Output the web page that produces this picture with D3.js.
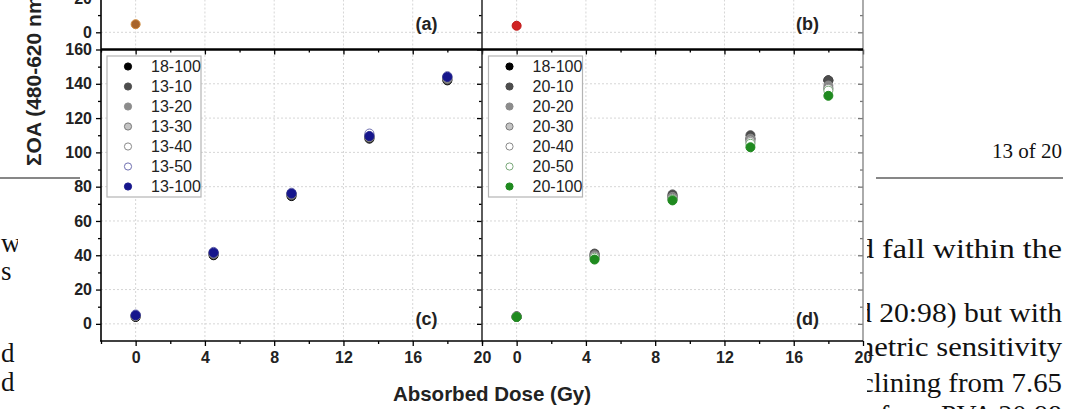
<!DOCTYPE html>
<html><head><meta charset="utf-8">
<script src="https://cdn.jsdelivr.net/npm/d3@7"></script>
<style>body{margin:0;background:#fff;overflow:hidden}</style>
</head><body>
<svg id="c" width="1078" height="409"></svg>
<script>
// ---------- data ----------
const doses = [0, 4.5, 9, 13.5, 18];
const seriesC = ["18-100","13-10","13-20","13-30","13-40","13-50","13-100"];
const valuesC = [
  [4.0, 40.0, 74.5, 108.0, 142.0],
  [4.5, 40.5, 75.0, 108.5, 142.5],
  [4.5, 41.0, 75.5, 109.0, 143.0],
  [5.0, 41.0, 76.0, 109.5, 143.5],
  [5.0, 41.5, 76.0, 110.0, 144.0],
  [5.5, 42.0, 76.5, 111.0, 144.5],
  [5.0, 41.5, 76.0, 109.5, 144.0]
];
const seriesD = ["18-100","20-10","20-20","20-30","20-40","20-50","20-100"];
const valuesD = [
  [4.0, 40.0, 74.5, 108.0, 142.0],
  [4.5, 41.0, 75.5, 110.0, 142.0],
  [4.0, 40.0, 74.0, 108.0, 139.0],
  [4.0, 39.5, 73.5, 107.0, 137.5],
  [4.0, 39.0, 73.0, 106.0, 137.0],
  [4.0, 38.5, 72.5, 105.0, 136.0],
  [4.0, 37.5, 72.0, 103.0, 133.0]
];
const dosesTop = [0];
const valuesA = [4.7];
const valuesB = [3.8];
const xTicks = [0, 4, 8, 12, 16, 20];
const xMinor = [-2, 2, 6, 10, 14, 18];
const yTicks = [0, 20, 40, 60, 80, 100, 120, 140, 160];
const yMinor = [10, 30, 50, 70, 90, 110, 130, 150];
const yTopTicks = [0, 20];
const yTopMinor = [10];
const panelLabels = ["(a)", "(b)", "(c)", "(d)"];
const yTitle = "\u03A3OA (480-620 nm)";
const xTitle = "Absorbed Dose (Gy)";
const pageHeader = "13 of 20";
const pageRight = ["d fall within the", "d 20:98) but with", "netric sensitivity", "clining from 7.65", "from PVA 20:98"];
const pageLeft = ["w", "s", "d", "d"];

// ---------- styles ----------
const styleC = [
  {fill:"#000000", stroke:"#000000"},
  {fill:"#4d4d4d", stroke:"#4d4d4d"},
  {fill:"#8c8c8c", stroke:"#8c8c8c"},
  {fill:"#c4c4c4", stroke:"#7a7a7a"},
  {fill:"#ffffff", stroke:"#8a8a8a"},
  {fill:"#ffffff", stroke:"#7070b0"},
  {fill:"#16168c", stroke:"#16168c"}
];
const styleD = [
  {fill:"#000000", stroke:"#000000"},
  {fill:"#4d4d4d", stroke:"#4d4d4d"},
  {fill:"#8c8c8c", stroke:"#8c8c8c"},
  {fill:"#c4c4c4", stroke:"#7a7a7a"},
  {fill:"#ffffff", stroke:"#8a8a8a"},
  {fill:"#ffffff", stroke:"#7aa87a"},
  {fill:"#1f8a1f", stroke:"#1f8a1f"}
];

const svg = d3.select("#c");
const SANS = "'Liberation Sans', Arial, sans-serif";
const SERIF = "'Liberation Serif', 'DejaVu Serif', serif";

// ---------- page text around the figure ----------
const defs = svg.append("defs");
defs.append("clipPath").attr("id","clipR").append("rect").attr("x",867).attr("y",0).attr("width",211).attr("height",409);
defs.append("clipPath").attr("id","clipL").append("rect").attr("x",0).attr("y",0).attr("width",18).attr("height",409);

const rightLayout = [
  {x:858, w:204, y:258},
  {x:857, w:205, y:322},
  {x:859, w:203, y:356},
  {x:861, w:201, y:392},
  {x:880, w:182, y:424}
];
svg.append("g").attr("clip-path","url(#clipR)").selectAll("text").data(pageRight).join("text")
  .attr("x",(d,i)=>rightLayout[i].x).attr("y",(d,i)=>rightLayout[i].y)
  .attr("textLength",(d,i)=>rightLayout[i].w).attr("lengthAdjust","spacingAndGlyphs")
  .attr("font-family",SERIF).attr("font-size",27).attr("fill","#111").text(d=>d);
const leftY = [252, 280, 362, 391];
svg.append("g").attr("clip-path","url(#clipL)").selectAll("text").data(pageLeft).join("text")
  .attr("x",1).attr("y",(d,i)=>leftY[i])
  .attr("font-family",SERIF).attr("font-size",27).attr("fill","#111").text(d=>d);
svg.append("text").attr("x",1062).attr("y",158).attr("text-anchor","end")
  .attr("font-family",SERIF).attr("font-size",21).attr("fill","#111").text(pageHeader);
svg.append("line").attr("x1",876).attr("x2",1063).attr("y1",178).attr("y2",178).attr("stroke","#111").attr("stroke-width",1.2);
svg.append("line").attr("x1",0).attr("x2",80).attr("y1",178).attr("y2",178).attr("stroke","#111").attr("stroke-width",1.2);

// ---------- figure ----------
const fig = svg.append("g");
const xC = d3.scaleLinear().domain([-2,20]).range([101,482]);
const xD = d3.scaleLinear().domain([-2,20]).range([482,863]);
const yB = d3.scaleLinear().domain([-10,160]).range([341,49.5]);
const yT = d3.scaleLinear().domain([-10,20]).range([49.5,-2.1]);

// grid
function grid(xs, ys, yTicksG) {
  const g = fig.append("g").attr("stroke","#d6d6d6").attr("stroke-width",1).attr("stroke-dasharray","2,2");
  g.selectAll("line.v").data(xTicks.filter(v=>v<20)).join("line").attr("class","v")
    .attr("x1",d=>xs(d)).attr("x2",d=>xs(d)).attr("y1",ys.range()[0]).attr("y2",ys.range()[1]);
  g.selectAll("line.h").data(yTicksG).join("line").attr("class","h")
    .attr("x1",xs.range()[0]).attr("x2",xs.range()[1]).attr("y1",d=>ys(d)).attr("y2",d=>ys(d));
}
grid(xC, yB, yTicks.filter(v=>v<160));
grid(xD, yB, yTicks.filter(v=>v<160));
grid(xC, yT, [0]);
grid(xD, yT, [0]);

function styleAxis(g, color) {
  g.select(".domain").remove();
  g.selectAll("line").attr("stroke", color || "#000").attr("stroke-width",1.3);
  g.selectAll("text").attr("font-family",SANS).attr("font-size",16).attr("font-weight","bold").attr("fill","#222");
}
function addAxis(axis, tx, ty, color) {
  const g = fig.append("g").attr("transform",`translate(${tx},${ty})`).call(axis);
  styleAxis(g, color);
  return g;
}
// left axes with labels (c and a)
addAxis(d3.axisLeft(yB).tickValues(yTicks).tickSize(5).tickSizeOuter(0).tickPadding(4).tickFormat(d3.format("d")), 101, 0);
addAxis(d3.axisLeft(yB).tickValues(yMinor).tickSize(3).tickSizeOuter(0).tickFormat(""), 101, 0);
addAxis(d3.axisLeft(yT).tickValues(yTopTicks).tickSize(5).tickSizeOuter(0).tickPadding(4).tickFormat(d3.format("d")), 101, 0);
addAxis(d3.axisLeft(yT).tickValues(yTopMinor).tickSize(3).tickSizeOuter(0).tickFormat(""), 101, 0);
// left axes of d and b (no labels)
addAxis(d3.axisLeft(yB).tickValues(yTicks).tickSize(5).tickSizeOuter(0).tickFormat(""), 482, 0);
addAxis(d3.axisLeft(yB).tickValues(yMinor).tickSize(3).tickSizeOuter(0).tickFormat(""), 482, 0);
addAxis(d3.axisLeft(yT).tickValues(yTopTicks).tickSize(5).tickSizeOuter(0).tickFormat(""), 482, 0);
addAxis(d3.axisLeft(yT).tickValues(yTopMinor).tickSize(3).tickSizeOuter(0).tickFormat(""), 482, 0);
// right axes (inward ticks)
addAxis(d3.axisLeft(yB).tickValues(yTicks).tickSize(5).tickSizeOuter(0).tickFormat(""), 863, 0, "#777");
addAxis(d3.axisLeft(yB).tickValues(yMinor).tickSize(3).tickSizeOuter(0).tickFormat(""), 863, 0, "#777");
addAxis(d3.axisLeft(yT).tickValues(yTopTicks).tickSize(5).tickSizeOuter(0).tickFormat(""), 863, 0, "#777");
addAxis(d3.axisLeft(yT).tickValues(yTopMinor).tickSize(3).tickSizeOuter(0).tickFormat(""), 863, 0, "#777");
// bottom axes
[xC, xD].forEach(xs => {
  addAxis(d3.axisBottom(xs).tickValues(xTicks).tickSize(5).tickSizeOuter(0).tickPadding(6).tickFormat(d3.format("d")), 0, 341);
  addAxis(d3.axisBottom(xs).tickValues(xMinor).tickSize(3).tickSizeOuter(0).tickFormat(""), 0, 341);
  addAxis(d3.axisBottom(xs).tickValues(xTicks).tickSize(5).tickSizeOuter(0).tickFormat(""), 0, 49.5);
  addAxis(d3.axisBottom(xs).tickValues(xMinor).tickSize(3).tickSizeOuter(0).tickFormat(""), 0, 49.5);
});

// frames
const frame = fig.append("g").attr("fill","none");
frame.append("line").attr("x1",101).attr("x2",101).attr("y1",0).attr("y2",341).attr("stroke","#000").attr("stroke-width",1.6);
frame.append("line").attr("x1",482).attr("x2",482).attr("y1",0).attr("y2",341).attr("stroke","#333").attr("stroke-width",1.6);
frame.append("line").attr("x1",863).attr("x2",863).attr("y1",0).attr("y2",341).attr("stroke","#888").attr("stroke-width",1.4);
frame.append("line").attr("x1",101).attr("x2",863).attr("y1",49.5).attr("y2",49.5).attr("stroke","#000").attr("stroke-width",2.4);
frame.append("line").attr("x1",100).attr("x2",863).attr("y1",341).attr("y2",341).attr("stroke","#000").attr("stroke-width",1.6);

// points
function drawPanel(xs, names, vals, styles) {
  const g = fig.append("g");
  names.forEach((n, i) => {
    g.append("g").selectAll("circle").data(doses.map((d,j)=>({x:d, y:vals[i][j]}))).join("circle")
      .attr("cx",d=>xs(d.x)).attr("cy",d=>yB(d.y)).attr("r",4.5)
      .attr("fill",styles[i].fill).attr("stroke",styles[i].stroke).attr("stroke-width",1);
  });
}
drawPanel(xC, seriesC, valuesC, styleC);
drawPanel(xD, seriesD, valuesD, styleD);
fig.append("g").selectAll("circle").data(dosesTop.map((d,j)=>({x:d,y:valuesA[j]}))).join("circle")
  .attr("cx",d=>xC(d.x)).attr("cy",d=>yT(d.y)).attr("r",4.5).attr("fill","#a8642a").attr("stroke","#d08a3c").attr("stroke-width",1);
fig.append("g").selectAll("circle").data(dosesTop.map((d,j)=>({x:d,y:valuesB[j]}))).join("circle")
  .attr("cx",d=>xD(d.x)).attr("cy",d=>yT(d.y)).attr("r",4.5).attr("fill","#d02424").attr("stroke","#c01818").attr("stroke-width",1);

// legends
function legend(x0, names, styles) {
  const g = fig.append("g");
  g.append("rect").attr("x",x0).attr("y",56).attr("width",94).attr("height",141)
    .attr("fill","#fff").attr("stroke","#b4b4b4").attr("stroke-width",1.2);
  names.forEach((n,i)=>{
    const cy = 66.5 + i*20;
    g.append("circle").attr("cx",x0+21).attr("cy",cy).attr("r",3.6)
      .attr("fill",styles[i].fill).attr("stroke",styles[i].stroke).attr("stroke-width",1);
    g.append("text").attr("x",x0+44).attr("y",cy).attr("dy","0.36em")
      .attr("font-family",SANS).attr("font-size",16).attr("fill","#222").text(n);
  });
}
legend(107, seriesC, styleC);
legend(488.5, seriesD, styleD);

// panel labels
const labelPos = [[xC,yT,16.8,1.3],[xD,yT,16.8,1.3],[xC,yB,16.8,-0.7],[xD,yB,16.8,-0.7]];
panelLabels.forEach((t,i)=>{
  const [xs, ys, xv, yv] = labelPos[i];
  fig.append("text").attr("x",xs(xv)).attr("y",ys(yv)).attr("text-anchor","middle")
    .attr("font-family",SANS).attr("font-size",18).attr("font-weight","bold").attr("fill","#222").text(t);
});

// axis titles
fig.append("text").attr("transform","translate(41,166) rotate(-90)")
  .attr("font-family",SANS).attr("font-size",21).attr("font-weight","bold").attr("fill","#222").text(yTitle);
fig.append("text").attr("x",492).attr("y",401).attr("text-anchor","middle")
  .attr("font-family",SANS).attr("font-size",20.5).attr("font-weight","bold").attr("fill","#222").text(xTitle);
</script>
</body></html>
